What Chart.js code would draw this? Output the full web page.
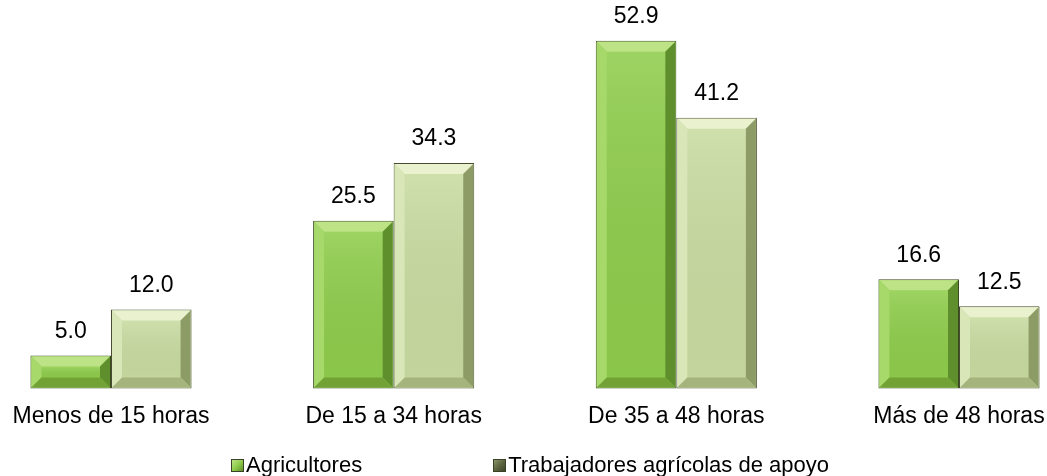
<!DOCTYPE html>
<html>
<head>
<meta charset="utf-8">
<script src="https://cdn.jsdelivr.net/npm/chart.js@4/dist/chart.umd.min.js"></script>
<style>
  html, body { margin: 0; padding: 0; background: #fff; }
  #wrap { position: relative; width: 1047px; height: 476px; }
  #legend {
    position: absolute; left: 231px; top: 452px;
    display: flex; gap: 131px;
    font: 22px "Liberation Sans", Arial, sans-serif; color: #000;
  }
  #legend .item { display: flex; align-items: center; }
  #legend .box { width: 13px; height: 13px; border: 1px solid #3a4226; margin-right: 2px; box-sizing: border-box; }
</style>
</head>
<body>
<div id="wrap">
  <canvas id="chart" width="1047" height="476"></canvas>
  <div id="legend"></div>
</div>
<script>
const categories = ['Menos de 15 horas', 'De 15 a 34 horas', 'De 35 a 48 horas', 'Más de 48 horas'];
const agricultores = [5.0, 25.5, 52.9, 16.6];
const trabajadores = [12.0, 34.3, 41.2, 12.5];
const seriesNames = ['Agricultores', 'Trabajadores agrícolas de apoyo'];

// face / bevel colours per series
const palettes = [
  { face: '#8fcd4c', top: '#bde386', left: '#a6d86a', right: '#5f8f2c', bottom: '#72a236', border: '#3b4a22' },
  { face: '#c9dba1', top: '#e9f1cf', left: '#d9e6b8', right: '#8d9c66', bottom: '#a4b47c', border: '#474d2e' }
];

const FONT = '"Liberation Sans", Arial, sans-serif';

// Draw bevel edges on each bar plus the value labels
const bevelPlugin = {
  id: 'bevel',
  afterDatasetsDraw(chart) {
    const ctx = chart.ctx;
    chart.data.datasets.forEach((ds, di) => {
      const p = palettes[di];
      chart.getDatasetMeta(di).data.forEach((bar, i) => {
        const { x, y, base, width } = bar.getProps(['x', 'y', 'base', 'width'], true);
        const l = x - width / 2 + 1, r = x + width / 2 - 1;
        const t = y + 1, b = base - 1;
        const bv = Math.min(10, (b - t) / 2);
        ctx.save();
        const quad = (pts, col) => {
          ctx.beginPath();
          ctx.moveTo(pts[0][0], pts[0][1]);
          for (let k = 1; k < pts.length; k++) ctx.lineTo(pts[k][0], pts[k][1]);
          ctx.closePath();
          ctx.fillStyle = col;
          ctx.fill();
        };
        quad([[l, t], [r, t], [r - bv, t + bv], [l + bv, t + bv]], p.top);
        quad([[l, t], [l + bv, t + bv], [l + bv, b - bv], [l, b]], p.left);
        quad([[r, t], [r, b], [r - bv, b - bv], [r - bv, t + bv]], p.right);
        quad([[l, b], [l + bv, b - bv], [r - bv, b - bv], [r, b]], p.bottom);
        // soft highlight on face
        const g = ctx.createLinearGradient(0, t + bv, 0, b - bv);
        g.addColorStop(0, 'rgba(255,255,255,0.12)');
        g.addColorStop(1, 'rgba(0,0,0,0.03)');
        ctx.fillStyle = g;
        ctx.fillRect(l + bv, t + bv, r - l - 2 * bv, b - t - 2 * bv);
        ctx.restore();

        ctx.save();
        ctx.font = '23px ' + FONT;
        ctx.fillStyle = '#000';
        ctx.textAlign = 'center';
        ctx.textBaseline = 'middle';
        ctx.fillText(ds.data[i].toFixed(1), x, y - 24);
        ctx.restore();
      });
    });
  }
};

const chart = new Chart(document.getElementById('chart'), {
  type: 'bar',
  data: {
    labels: categories,
    datasets: [
      { label: seriesNames[0], data: agricultores },
      { label: seriesNames[1], data: trabajadores }
    ].map((d, i) => Object.assign(d, {
      backgroundColor: palettes[i].face,
      borderColor: palettes[i].border,
      borderWidth: 1,
      borderSkipped: false,
      categoryPercentage: 0.57,
      barPercentage: 1.0,
      clip: false
    }))
  },
  options: {
    responsive: false,
    animation: false,
    layout: { padding: { left: 111, right: 88, top: 27, bottom: 32 } },
    plugins: { legend: { display: false }, tooltip: { enabled: false } },
    scales: {
      x: {
        offset: false,
        grid: { display: false, drawTicks: false },
        border: { display: false },
        ticks: {
          color: '#000', font: { family: FONT, size: 23 },
          padding: 14, maxRotation: 0, autoSkip: false
        },
        // let the layout padding alone decide the horizontal extent
        afterFit(scale) {
          scale.paddingLeft = 0;
          scale.paddingRight = 0;
        }
      },
      y: { display: false, min: 0, max: 55 }
    }
  },
  plugins: [bevelPlugin]
});

// HTML legend built from the datasets
const legend = document.getElementById('legend');
chart.data.datasets.forEach((ds, i) => {
  const item = document.createElement('div');
  item.className = 'item';
  const box = document.createElement('span');
  box.className = 'box';
  box.style.background = 'linear-gradient(135deg, ' + palettes[0].top + ', ' + palettes[0].face + ' 50%, ' + palettes[0].right + ')';
  if (i === 1) box.style.background = 'linear-gradient(135deg, #8a9468, #5d6640 50%, #3e4528)';
  const txt = document.createElement('span');
  txt.textContent = ds.label;
  item.appendChild(box);
  item.appendChild(txt);
  legend.appendChild(item);
});
</script>
</body>
</html>
